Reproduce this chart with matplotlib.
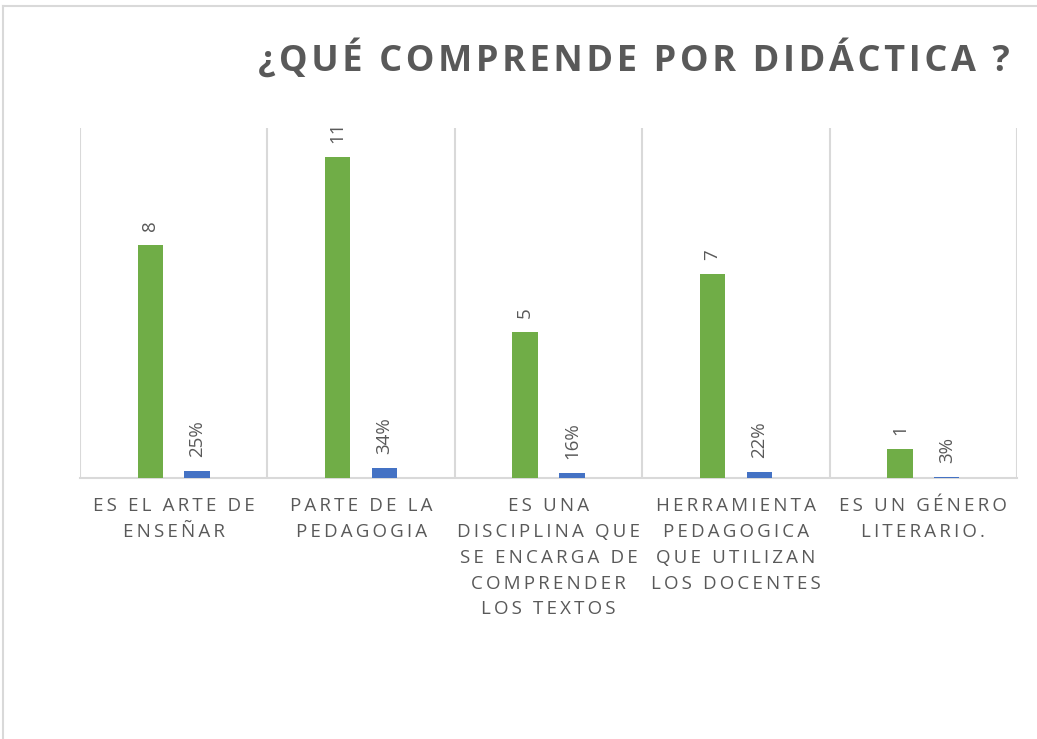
import matplotlib.pyplot as plt
import numpy as np
from matplotlib.lines import Line2D

# datos
categorias = ["ES EL ARTE DE\nENSEÑAR",
              "PARTE DE LA\nPEDAGOGIA",
              "ES UNA\nDISCIPLINA QUE\nSE ENCARGA DE\nCOMPRENDER\nLOS TEXTOS",
              "HERRAMIENTA\nPEDAGOGICA\nQUE UTILIZAN\nLOS DOCENTES",
              "ES UN GÉNERO\nLITERARIO."]
frecuencia = [8, 11, 5, 7, 1]
porcentaje = [0.25, 0.34, 0.16, 0.22, 0.03]
etiquetas_pct = ["25%", "34%", "16%", "22%", "3%"]
titulo = "¿QUÉ COMPRENDE POR DIDÁCTICA ?"

VERDE = "#70AD47"
AZUL = "#4472C4"
GRIS = "#595959"
LINEA = "#D9D9D9"
FUENTE = ["Open Sans", "DejaVu Sans"]


# espaciado entre letras (como en excel)
def espaciar(txt, sep="\u2009"):
    return "\n".join(sep.join(linea) for linea in txt.split("\n"))


fig = plt.figure(figsize=(10.37, 7.39), dpi=100)
ax = fig.add_axes([80 / 1037, 1 - 478 / 739, 937 / 1037, 350 / 739])

x = np.arange(len(categorias))
ancho = 0.135
b1 = ax.bar(x - 0.125, frecuencia, ancho, color=VERDE, zorder=3)
b2 = ax.bar(x + 0.125, porcentaje, ancho, color=AZUL, zorder=3)

for rect, v in zip(b1, frecuencia):
    ax.annotate(str(v), (rect.get_x() + rect.get_width() / 2, rect.get_height()),
                xytext=(0, 10), textcoords="offset points", rotation=90,
                ha="center", va="bottom", fontsize=13.5, color=GRIS, family=FUENTE)
for rect, t in zip(b2, etiquetas_pct):
    ax.annotate(t, (rect.get_x() + rect.get_width() / 2, rect.get_height()),
                xytext=(0, 10), textcoords="offset points", rotation=90,
                ha="center", va="bottom", fontsize=13.5, color=GRIS, family=FUENTE)

ax.set_xlim(-0.5, len(categorias) - 0.5)
ax.set_ylim(0, 12)
ax.set_yticks([])
for s in ["top", "left", "right"]:
    ax.spines[s].set_visible(False)
ax.spines["bottom"].set_color(LINEA)
ax.spines["bottom"].set_linewidth(1.5)

# lineas verticales entre categorias
for b in np.arange(-0.5, len(categorias), 1):
    ax.axvline(b, color=LINEA, lw=1.5, zorder=1)

ax.set_xticks(x)
ax.set_xticklabels([espaciar(c) for c in categorias], fontsize=13.5,
                   color=GRIS, family=FUENTE, linespacing=1.55, va="top")
ax.tick_params(axis="x", length=0, pad=14)

fig.text(1010 / 1037, 1 - 60 / 739, espaciar(titulo, "\u200a"), ha="right", va="center",
         fontsize=26, fontweight="bold", color=GRIS, family=FUENTE)

# borde del area del grafico
fig.add_artist(Line2D([3 / 1037, 3 / 1037], [0, 1 - 6 / 739], transform=fig.transFigure,
                      color=LINEA, lw=1.5))
fig.add_artist(Line2D([3 / 1037, 1], [1 - 6 / 739, 1 - 6 / 739], transform=fig.transFigure,
                      color=LINEA, lw=1.5))

fig.savefig("out.png", dpi=100, facecolor="white")
